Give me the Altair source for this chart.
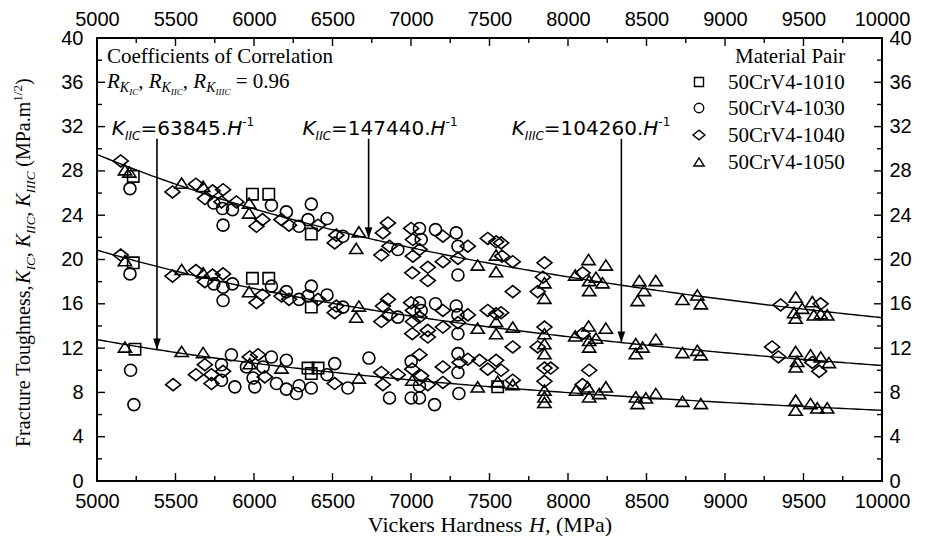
import altair as alt
import pandas as pd

# ---------------- data ----------------
pairs = ["50CrV4-1010", "50CrV4-1030", "50CrV4-1040", "50CrV4-1050"]

# 50CrV4-1010 (squares)
sq_H = [5231, 5990, 6094, 6365, 5231, 5990, 6094, 6365, 5242, 6344, 6408, 6365, 7552]
sq_K = [27.5, 25.9, 25.9, 22.3, 19.7, 18.3, 18.3, 15.7, 11.9, 10.2, 10.2, 9.7, 8.5]

# 50CrV4-1030 (circles)
ci_up_H = [5210, 5744, 5803, 5799, 5863, 6111, 6206, 6287, 6365, 6344, 6465, 6566, 6916, 7054, 7065, 7156, 7288, 7299, 7299]
ci_up_K = [26.4, 25.1, 23.1, 24.6, 24.5, 24.9, 24.3, 23.0, 25.0, 23.6, 23.7, 22.1, 20.9, 22.8, 21.8, 22.7, 22.4, 21.2, 18.6]
ci_mid_H = [5210, 5744, 5803, 5803, 5863, 6111, 6206, 6287, 6365, 6344, 6465, 6566, 6916, 7054, 7065, 7156, 7288, 7299, 7299]
ci_mid_K = [18.7, 17.8, 16.3, 17.5, 17.8, 17.6, 17.1, 16.4, 17.6, 16.7, 16.8, 15.7, 14.8, 16.1, 15.4, 16.0, 15.8, 15.0, 13.3]
ci_low_H = [5214, 5235, 5793, 5793, 5856, 5878, 5952, 5994, 6005, 6058, 6111, 6143, 6206, 6206, 6270,
            6287, 6365, 6465, 6514, 6598, 6732, 6863, 7001, 7001, 7054, 7054, 7150, 7299, 7299, 7305]
ci_low_K = [10.0, 6.9, 10.5, 9.1, 11.4, 8.5, 10.3, 9.3, 8.5, 10.3, 11.2, 8.8, 10.9, 8.3, 7.9,
            8.6, 8.4, 9.6, 10.6, 8.4, 11.1, 7.5, 10.8, 7.5, 7.5, 8.6, 6.9, 11.5, 9.8, 7.9]

# 50CrV4-1040 (diamonds)
di_up_H = [5151, 5481, 5630, 5687, 5736, 5803, 5793, 5888, 6016, 6054, 6175, 6223, 6408, 6514, 6524,
           6811, 6821, 6853, 6863, 7001, 7012, 7012, 7008, 7054, 7107, 7107, 7203, 7203, 7362, 7299,
           7489, 7542, 7574, 7580, 7648, 7648, 7850, 7840, 7807, 8093, 9354, 9609]
di_up_K = [28.9, 26.1, 26.8, 25.5, 26.2, 26.3, 25.2, 25.2, 23.0, 23.6, 23.6, 23.1, 23.1, 21.5, 22.2,
           20.4, 22.4, 23.3, 21.2, 22.8, 21.8, 20.3, 18.8, 20.9, 19.3, 18.1, 22.1, 19.8, 21.2, 20.1,
           21.9, 21.6, 21.5, 20.3, 19.8, 17.1, 19.7, 18.4, 17.1, 18.8, 15.9, 16.0]
di_mid_H = [5151, 5481, 5630, 5687, 5736, 5803, 6016, 6054, 6175, 6223, 6408, 6514, 6524, 6811, 6821,
            6853, 6863, 7001, 7012, 7012, 7008, 7054, 7107, 7107, 7203, 7203, 7362, 7299, 7489, 7542,
            7574, 7648, 7850, 7807, 8093, 9300, 9340, 9556, 9600]
di_mid_K = [20.4, 18.5, 19.0, 18.0, 18.6, 18.7, 16.1, 16.8, 16.7, 16.4, 16.4, 15.2, 15.8, 14.4, 15.8,
            16.4, 15.0, 16.1, 15.4, 14.4, 13.3, 14.8, 13.6, 13.0, 15.4, 13.9, 15.0, 14.3, 15.4, 15.1,
            15.2, 12.1, 13.9, 12.1, 13.3, 12.1, 11.2, 10.7, 9.9]
di_low_H = [5485, 5687, 5630, 5729, 5729, 5803, 5973, 6026, 6069, 6514, 6811, 6821, 6916, 7008, 7054,
            7065, 7107, 7203, 7203, 7310, 7362, 7436, 7489, 7542, 7574, 7648, 7850, 7890, 7850, 8093, 8135]
di_low_K = [8.7, 10.5, 9.6, 9.6, 8.8, 9.9, 11.2, 11.4, 9.4, 8.8, 9.8, 8.7, 9.6, 10.1, 11.4,
            9.5, 8.7, 10.3, 8.9, 10.7, 11.0, 10.9, 10.1, 10.9, 10.0, 9.1, 10.2, 10.2, 9.0, 8.7, 10.0]

# 50CrV4-1050 (triangles)
tr_up_H = [5178, 5206, 5539, 5676, 5969, 5969, 6651, 6668, 7425, 7542, 7542, 7850, 7850, 8046, 8131,
           8135, 8135, 8178, 8220, 8241, 8454, 8443, 8485, 8559, 8729, 8824, 8846, 9450, 9450, 9440,
           9492, 9556, 9566, 9651, 9610]
tr_up_K = [28.1, 27.9, 26.9, 26.6, 25.1, 24.2, 21.0, 22.5, 19.5, 20.4, 18.9, 17.9, 16.5, 18.6, 20.0,
           18.1, 17.2, 18.4, 17.9, 19.5, 18.1, 16.3, 17.2, 18.1, 16.4, 16.8, 16.0, 16.6, 14.7, 15.2,
           15.6, 16.2, 15.0, 15.0, 15.1]
tr_mid_H = [5178, 5539, 5676, 5969, 6651, 6668, 7425, 7542, 7542, 7648, 7850, 7850, 7850, 8046, 8131,
            8135, 8135, 8178, 8241, 8432, 8432, 8475, 8559, 8729, 8824, 8846, 9450, 9450, 9460, 9545,
            9610, 9662]
tr_mid_K = [19.9, 19.1, 18.8, 17.1, 14.8, 15.8, 13.8, 14.4, 13.3, 13.9, 13.3, 12.4, 11.5, 13.1, 14.0,
            12.7, 12.1, 12.9, 13.8, 12.4, 11.5, 12.1, 12.8, 11.6, 11.8, 11.4, 11.7, 10.3, 10.8, 11.4,
            11.2, 10.7]
tr_low_H = [5178, 5539, 5676, 5973, 6175, 6668, 7008, 7425, 7552, 7648, 7850, 7850, 7850, 8051, 8125,
            8135, 8199, 8241, 8432, 8443, 8496, 8559, 8729, 8846, 9450, 9450, 9545, 9588, 9651]
tr_low_K = [12.1, 11.7, 11.6, 10.6, 10.2, 9.3, 9.1, 8.5, 9.0, 8.7, 8.2, 7.6, 7.1, 8.2, 8.5,
            7.6, 7.9, 8.5, 7.6, 7.0, 7.5, 7.9, 7.2, 7.0, 7.3, 6.4, 7.0, 6.6, 6.6]

# fitted curves K = C / H (coefficients printed on the chart)
fit_coefs = [147440, 104260, 63845]
# arrows pointing from the labels to the curves
arrow_H = [5382, 6730, 8340]
arrow_coef = [63845, 147440, 104260]
arrow_top = 30.9

x_major = [5000, 5500, 6000, 6500, 7000, 7500, 8000, 8500, 9000, 9500, 10000]
x_minor = [5250, 5750, 6250, 6750, 7250, 7750, 8250, 8750, 9250, 9750]
y_major = [0, 4, 8, 12, 16, 20, 24, 28, 32, 36, 40]
y_minor = [2, 6, 10, 14, 18, 22, 26, 30, 34, 38]

# ---------------- layout ----------------
OX, OY, PW, PH = 97, 38, 785, 443
SERIF = "Liberation Serif"
SANS = "DejaVu Sans"


def px2H(px):
    return 5000 + (px - OX) / PW * 5000


def py2K(py):
    return 40 - (py - OY) / PH * 40


SERIF_W = {' ': .25, ',': .25, '.': .25, '(': .333, ')': .333, '/': .278, '=': .564, '-': .333,
           'C': .667, 'F': .556, 'H': .722, 'K': .722, 'M': .889, 'P': .556, 'R': .667, 'T': .611,
           'V': .722, 'I': .333, 'a': .444, 'c': .444, 'd': .5, 'e': .444, 'f': .333, 'g': .5,
           'h': .5, 'i': .278, 'k': .5, 'l': .278, 'm': .778, 'n': .5, 'o': .5, 'r': .333,
           's': .389, 't': .278, 'u': .5}
SERIF_IT = {'K': .667, 'R': .611, 'H': .722, 'I': .333, 'C': .667}
SANS_W = {' ': .318, '=': .838, '.': .318, 'K': .656, 'H': .752, 'I': .295, 'C': .698, '-': .361}


def text_w(t, fam, it):
    tot = 0.0
    for ch in t:
        if fam == 'sans':
            tot += .636 if ch.isdigit() else SANS_W.get(ch, .6)
        else:
            if it and ch in SERIF_IT:
                tot += SERIF_IT[ch]
            elif ch.isdigit():
                tot += .5
            else:
                tot += SERIF_W.get(ch, .5)
    return tot


pieces = []


def add_run(x0, y0, parts, angle=0, center=False):
    widths = [text_w(t, fam, it) * sz for (t, fam, it, sz, sh) in parts]
    if center:
        x0 = x0 - sum(widths) / 2
    pos = 0.0
    for (t, fam, it, sz, sh), w in zip(parts, widths):
        lead = len(t) - len(t.lstrip(' '))
        lead_w = text_w(' ' * lead, fam, it) * sz
        s = t.strip(' ')
        if s:
            if angle == 0:
                px, py = x0 + pos + lead_w, y0 + sh
            else:
                px, py = x0 + sh, y0 - pos - lead_w
            pieces.append({"H": px2H(px), "K": py2K(py), "text": s,
                           "font": SERIF if fam == 'serif' else SANS,
                           "style": "italic" if it else "normal", "size": sz, "angle": angle})
        pos += w


# correlation note
add_run(107, 63, [("Coefficients of Correlation", 'serif', False, 21, 0)])
rparts = []
for sub in ["IC", "IIC", "IIIC"]:
    rparts += [("R", 'serif', True, 21, 0), ("K", 'serif', True, 14, 4), (sub, 'serif', True, 9, 7),
               (", ", 'serif', False, 21, 0)]
rparts[-1] = (" = 0.96", 'serif', False, 21, 0)
add_run(107, 88, rparts)


def klabel(sub, num):
    return [("K", 'sans', True, 20, 0), (sub, 'sans', True, 12, 5), ("=" + num + ".", 'sans', False, 20, 0),
            ("H", 'sans', True, 20, 0), ("-1", 'sans', False, 12, -9)]


add_run(183, 135, klabel("IIC", "63845"), center=True)
add_run(380, 135, klabel("IIC", "147440"), center=True)
add_run(591, 135, klabel("IIIC", "104260"), center=True)

# legend text
legend_rows = [82, 108, 135, 162]
add_run(735, 63, [("Material Pair", 'serif', False, 21, 0)])
for name, yc in zip(pairs, legend_rows):
    add_run(728, yc + 6.5, [(name, 'serif', False, 21, 0)])

# axis titles
add_run(490, 532, [("Vickers Hardness ", 'serif', False, 22, 0), ("H,", 'serif', True, 22, 0),
                   (" (MPa)", 'serif', False, 22, 0)], center=True)
add_run(30, 447, [("Fracture Toughness,", 'serif', False, 20, 0), ("K", 'serif', True, 20, 0),
                  ("IC", 'serif', True, 13, 5), (", ", 'serif', False, 20, 0), ("K", 'serif', True, 20, 0),
                  ("IIC", 'serif', True, 13, 5), (", ", 'serif', False, 20, 0), ("K", 'serif', True, 20, 0),
                  ("IIIC", 'serif', True, 13, 5), (" (MPa.m", 'serif', False, 20, 0),
                  ("1/2", 'serif', False, 13, -8), (")", 'serif', False, 20, 0)], angle=270)

# ---------------- tables ----------------
series = [
    (pairs[0], sq_H, sq_K),
    (pairs[1], ci_up_H + ci_mid_H + ci_low_H, ci_up_K + ci_mid_K + ci_low_K),
    (pairs[2], di_up_H + di_mid_H + di_low_H, di_up_K + di_mid_K + di_low_K),
    (pairs[3], tr_up_H + tr_mid_H + tr_low_H, tr_up_K + tr_mid_K + tr_low_K),
]
rows = []
for name, hs, ks in series:
    assert len(hs) == len(ks), name
    rows += [{"H": h, "K": k, "pair": name} for h, k in zip(hs, ks)]
pts = pd.DataFrame(rows)

curves = pd.DataFrame([{"H": h, "K": c / h, "fit": str(c)} for c in fit_coefs for h in range(5000, 10001, 25)])
arrows = pd.DataFrame({"H": arrow_H, "top": [arrow_top] * len(arrow_H),
                       "tip": [c / h for c, h in zip(arrow_coef, arrow_H)]})
leg = pd.DataFrame({"H": [px2H(699)] * 4, "K": [py2K(y) for y in legend_rows], "pair": pairs})
texts = pd.DataFrame(pieces)

xs = alt.Scale(domain=[5000, 10000], nice=False, zero=False)
ys = alt.Scale(domain=[0, 40], nice=False, zero=False)

SQ = "M-0.95,-0.95L0.95,-0.95L0.95,0.95L-0.95,0.95Z"
DI = "M-1.25,0L0,-1L1.25,0L0,1Z"
TR = "M0,-0.85L1.1,0.85L-1.1,0.85Z"
shape_scale = alt.Scale(domain=pairs, range=[SQ, "circle", DI, TR])

LBL = dict(labelFont="Liberation Sans", labelFontSize=20, labelColor="black", ticks=False,
           domain=False, grid=False, title=None, labelFlush=False, labelOverlap=False)

layers = []


# inward ticks
def tick_layer(vals, side, length):
    df = pd.DataFrame({"v": vals})
    base = alt.Chart(df).mark_rule(color="black", strokeWidth=1.4)
    if side == "bottom":
        return base.encode(x=alt.X("v:Q", scale=xs, axis=None), y=alt.value(PH), y2=alt.value(PH - length))
    if side == "top":
        return base.encode(x=alt.X("v:Q", scale=xs, axis=None), y=alt.value(0), y2=alt.value(length))
    if side == "left":
        return base.encode(y=alt.Y("v:Q", scale=ys, axis=None), x=alt.value(0), x2=alt.value(length))
    return base.encode(y=alt.Y("v:Q", scale=ys, axis=None), x=alt.value(PW), x2=alt.value(PW - length))


for side in ["bottom", "top"]:
    layers.append(tick_layer(x_major, side, 8))
    layers.append(tick_layer(x_minor, side, 5))
for side in ["left", "right"]:
    layers.append(tick_layer(y_major, side, 8))
    layers.append(tick_layer(y_minor, side, 5))

# fitted curves (carry the top / right axes)
layers.append(
    alt.Chart(curves).mark_line(color="black", strokeWidth=1.4).encode(
        x=alt.X("H:Q", scale=xs, axis=alt.Axis(orient="top", values=x_major, format="d", labelPadding=9, **LBL)),
        y=alt.Y("K:Q", scale=ys, axis=alt.Axis(orient="right", values=y_major, format="d", labelPadding=7, **LBL)),
        detail="fit:N",
    )
)

# arrows
layers.append(
    alt.Chart(arrows).mark_rule(color="black", strokeWidth=1.6).encode(
        x=alt.X("H:Q", scale=xs, axis=None), y=alt.Y("top:Q", scale=ys, axis=None), y2="tip:Q"
    )
)
layers.append(
    alt.Chart(arrows).mark_point(shape="M-0.7,-2L0.7,-2L0,0Z", filled=True, size=121, color="black", opacity=1).encode(
        x=alt.X("H:Q", scale=xs, axis=None), y=alt.Y("tip:Q", scale=ys, axis=None)
    )
)

# scatter (carries the bottom / left axes)
layers.append(
    alt.Chart(pts).mark_point(filled=False, size=144, strokeWidth=1.6, color="black", opacity=1).encode(
        x=alt.X("H:Q", scale=xs, axis=alt.Axis(orient="bottom", values=x_major, format="d", labelPadding=10, **LBL)),
        y=alt.Y("K:Q", scale=ys, axis=alt.Axis(orient="left", values=y_major, format="d", labelPadding=14, **LBL)),
        shape=alt.Shape("pair:N", scale=shape_scale, legend=None),
    )
)

# legend symbols
layers.append(
    alt.Chart(leg).mark_point(filled=False, size=90, strokeWidth=1.4, color="black", opacity=1).encode(
        x=alt.X("H:Q", scale=xs, axis=None), y=alt.Y("K:Q", scale=ys, axis=None),
        shape=alt.Shape("pair:N", scale=shape_scale, legend=None),
    )
)

# text pieces
for (font, style, size, angle), g in texts.groupby(["font", "style", "size", "angle"]):
    layers.append(
        alt.Chart(g.reset_index(drop=True)).mark_text(
            font=font, fontStyle=style, fontSize=float(size), angle=float(angle),
            align="left", baseline="alphabetic", color="black"
        ).encode(
            x=alt.X("H:Q", scale=xs, axis=None), y=alt.Y("K:Q", scale=ys, axis=None), text="text:N"
        )
    )

chart = alt.layer(*layers).resolve_axis(x="independent", y="independent").properties(
    width=PW, height=PH,
    autosize=alt.AutoSizeParams(type="none"),
    padding={"left": OX - 8, "top": OY - 8, "right": 37, "bottom": 55},
    background="white",
).configure_view(stroke="black", strokeWidth=2)

chart.save("out.html", embed_options={"renderer": "svg", "actions": False})
